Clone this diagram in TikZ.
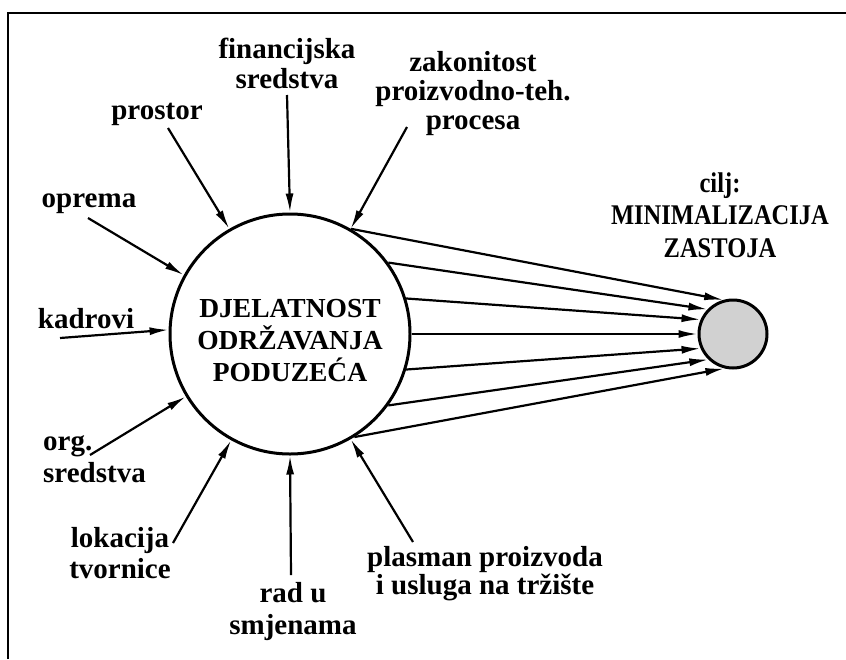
\documentclass[tikz,border=0pt]{standalone}
\usepackage{fontspec}
\setmainfont{Liberation Serif}
\newfontfamily\goalfont{Liberation Serif}[FakeStretch=0.86]
\usetikzlibrary{arrows.meta}

\begin{document}
\begin{tikzpicture}[x=1pt, y=-1pt,
    every node/.style={font=\fontsize{29}{31}\selectfont\bfseries, inner sep=0pt, align=center},
    > = {Latex[length=19pt,width=8pt]},
    pointer/.style={->, line width=2.2pt},
    ring/.style={circle, draw, line width=3pt, minimum size=240pt}]
    \useasboundingbox (0,0) rectangle (846,659);
    \draw[line width=2.4pt] (8,659) -- (8,13) -- (846,13);

    % centre and goal
    \node[ring] (big) at (290,334) {};
    \node[font=\fontsize{27.5}{32}\selectfont\bfseries] (bigtext) at (290,341) {DJELATNOST\\ODRŽAVANJA\\PODUZEĆA};
    \node[ring, fill=black!18, minimum size=68pt] (goal) at (733,334) {};
    \node[font=\goalfont\fontsize{28.5}{32.5}\selectfont\bfseries] (cilj) at (720,215) {cilj:\\MINIMALIZACIJA\\ZASTOJA};

    % inputs
    \node[font=\fontsize{29}{30}\selectfont\bfseries] (fin) at (287,63) {financijska\\sredstva};
    \node[anchor=base] (prostor) at (157,119) {prostor};
    \node[font=\fontsize{29}{29}\selectfont\bfseries] (zakon) at (473,94) {zakonitost\\proizvodno-teh.\\procesa};
    \node[anchor=base] (oprema) at (89,207) {oprema};
    \node[anchor=base] (kadrovi) at (86,328) {kadrovi};
    \node[anchor=west, align=left, font=\fontsize{29}{32}\selectfont\bfseries] (org) at (43,459) {org.\\sredstva};
    \node (lok) at (120,553) {lokacija\\tvornice};
    \node[font=\fontsize{29}{32}\selectfont\bfseries] (rad) at (293,612) {rad u\\smjenama};
    \node[font=\fontsize{29}{28}\selectfont\bfseries] (plasman) at (485,574) {plasman proizvoda\\i usluga na tržište};

    \coordinate (finT) at (287,95);
    \coordinate (prostorT) at (168,128);
    \coordinate (zakonT) at (407,127);
    \coordinate (opremaT) at (88,218);
    \coordinate (kadroviT) at (60,338);
    \coordinate (orgT) at (90,455);
    \coordinate (lokT) at (173,543);
    \coordinate (radT) at (291,575);
    \coordinate (plasmanT) at (413,542);

    \draw[pointer] (finT) -- (big.90);
    \draw[pointer] (prostorT) -- (big.120);
    \draw[pointer] (zakonT) -- (big.60);
    \draw[pointer] (opremaT) -- (big.151);
    \draw[pointer] (kadroviT) -- (big.178);
    \draw[pointer] (orgT) -- (big.211);
    \draw[pointer] (lokT) -- (big.241);
    \draw[pointer] (radT) -- (big.270);
    \draw[pointer] (plasmanT) -- (big.300);

    % outputs
    \foreach \a/\b in {60/106, 36/136, 17/156, 0/180, 343/204, 324/226, 302/256}
        \draw[pointer] (big.\a) -- (goal.\b);
\end{tikzpicture}
\end{document}
